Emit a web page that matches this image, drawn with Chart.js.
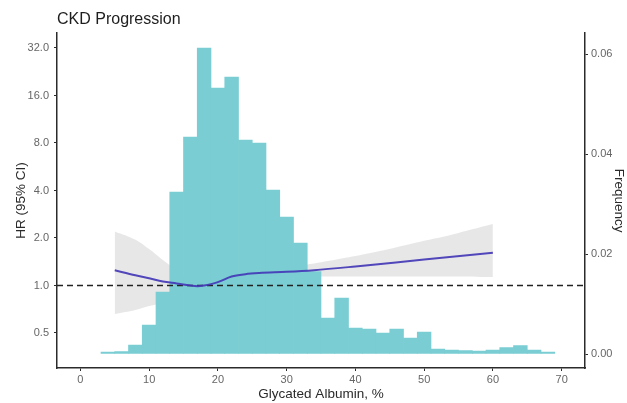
<!DOCTYPE html>
<html>
<head>
<meta charset="utf-8">
<script src="https://cdn.jsdelivr.net/npm/chart.js@4"></script>
<style>
  body { margin: 0; background: #ffffff; }
  #wrap { width: 627px; height: 403px; }
</style>
</head>
<body>
<div id="wrap"><canvas id="ckdChart" width="627" height="403"></canvas></div>
<script>
// histogram of glycated albumin (bin centres, width 2) and the frequency of each bin
const binCentres = [4, 6, 8, 10, 12, 14, 16, 18, 20, 22, 24, 26, 28, 30, 32, 34, 36, 38, 40, 42, 44, 46, 48, 50, 52, 54, 56, 58, 60, 62, 64, 66, 68]
const binFreq = [0.0004, 0.0005, 0.0018, 0.0058, 0.0124, 0.0324, 0.0434, 0.0612, 0.0532, 0.0554, 0.0428, 0.0422, 0.0328, 0.0274, 0.0222, 0.0165, 0.0072, 0.0112, 0.0052, 0.0050, 0.0042, 0.0050, 0.0032, 0.0044, 0.0010, 0.0008, 0.0007, 0.0006, 0.0008, 0.0013, 0.0017, 0.0008, 0.0004]

// hazard ratio curve and its 95% CI
const hrX = [5, 8, 10, 12, 14, 16, 17, 18, 19, 20, 22, 24, 26, 30, 34, 40, 50, 60]
const hrValue = [1.25, 1.16, 1.11, 1.06, 1.03, 1.00, 0.99, 1.00, 1.02, 1.05, 1.14, 1.18, 1.20, 1.22, 1.25, 1.32, 1.46, 1.61]
const ciX = [5, 8, 10, 12, 14, 16, 18, 20, 22, 24, 26, 28, 30, 34, 38, 42, 46, 50, 54, 60]
const ciUpper = [2.2, 1.95, 1.7, 1.45, 1.25, 1.08, 1.05, 1.1, 1.22, 1.26, 1.28, 1.3, 1.32, 1.38, 1.48, 1.6, 1.75, 1.92, 2.1, 2.45]
const ciLower = [0.66, 0.7, 0.74, 0.78, 0.86, 0.93, 0.95, 1.02, 1.1, 1.12, 1.14, 1.15, 1.15, 1.14, 1.14, 1.14, 1.14, 1.14, 1.14, 1.13]

// reference line at HR = 1 spanning the x range
const refX = [-3.4, 73.4]
const refHR = [1, 1]

// tick values
const xTicks = [0, 10, 20, 30, 40, 50, 60, 70]
const hrTicks = [0.5, 1, 2, 4, 8, 16, 32]
const freqTicks = [0, 0.02, 0.04, 0.06]

const toPoints = (xs, ys) => xs.map((x, i) => ({x: x, y: ys[i]}))

const axisColor = '#2b2b2b'
const tickColor = '#666666'
const fontFamily = '"Liberation Sans", Arial, sans-serif'

const ckdChart = new Chart(document.getElementById('ckdChart'), {
    type: 'bar',
    data: {
        datasets: [
            {
                // upper bound of CI, filled down to the lower bound (next dataset)
                type: 'line',
                data: toPoints(ciX, ciUpper),
                yAxisID: 'y',
                borderWidth: 0,
                pointRadius: 0,
                tension: 0.4,
                fill: '+1',
                backgroundColor: 'rgba(215, 215, 215, 0.6)',
                order: 4
            },
            {
                type: 'line',
                data: toPoints(ciX, ciLower),
                yAxisID: 'y',
                borderWidth: 0,
                pointRadius: 0,
                tension: 0.4,
                fill: false,
                order: 4
            },
            {
                type: 'bar',
                data: toPoints(binCentres, binFreq),
                yAxisID: 'y2',
                backgroundColor: '#79cdd3',
                borderWidth: 0,
                barPercentage: 1,
                categoryPercentage: 1,
                order: 3
            },
            {
                type: 'line',
                data: toPoints(refX, refHR),
                yAxisID: 'y',
                borderColor: '#222222',
                borderWidth: 1.5,
                borderDash: [6, 4],
                pointRadius: 0,
                fill: false,
                order: 2
            },
            {
                type: 'line',
                data: toPoints(hrX, hrValue),
                yAxisID: 'y',
                borderColor: 'rgba(68, 56, 182, 0.92)',
                borderWidth: 2,
                pointRadius: 0,
                cubicInterpolationMode: 'monotone',
                fill: false,
                order: 1
            }
        ]
    },
    options: {
        responsive: false,
        animation: false,
        layout: { padding: 0 },
        plugins: {
            legend: { display: false },
            tooltip: { enabled: false },
            title: {
                display: true,
                text: 'CKD Progression',
                align: 'start',
                fullSize: false,
                color: '#1e1e1e',
                font: { family: fontFamily, size: 16, weight: 'normal' },
                padding: { top: 10, bottom: 4 }
            }
        },
        scales: {
            x: {
                type: 'linear',
                min: -3.4,
                max: 73.4,
                offset: false,
                afterBuildTicks: scale => { scale.ticks = xTicks.map(v => ({value: v})) },
                afterFit: scale => { scale.height = 35 },
                grid: { display: true, drawOnChartArea: false, drawTicks: true, tickLength: 3, color: axisColor, offset: false },
                border: { display: true, color: axisColor, width: 1.5 },
                ticks: { color: tickColor, font: { family: fontFamily, size: 11 }, padding: 2, maxRotation: 0 },
                title: {
                    display: true,
                    text: 'Glycated Albumin, %',
                    color: '#2a2a2a',
                    font: { family: fontFamily, size: 13.5 },
                    padding: { top: 0, bottom: 1 }
                }
            },
            y: {
                type: 'logarithmic',
                position: 'left',
                min: 0.325,
                max: 39.7,
                afterBuildTicks: scale => { scale.ticks = hrTicks.map(v => ({value: v})) },
                afterFit: scale => { scale.width = 57 },
                grid: { display: true, drawOnChartArea: false, drawTicks: true, tickLength: 3, color: axisColor },
                border: { display: true, color: axisColor, width: 1.5 },
                ticks: {
                    color: tickColor,
                    font: { family: fontFamily, size: 11 },
                    padding: 5,
                    callback: value => Number(value).toFixed(1)
                },
                title: {
                    display: true,
                    text: 'HR (95% CI)',
                    color: '#2a2a2a',
                    font: { family: fontFamily, size: 13.5 },
                    padding: { top: 13, bottom: 0 }
                }
            },
            y2: {
                type: 'linear',
                position: 'right',
                min: -0.0028,
                max: 0.0642,
                afterBuildTicks: scale => { scale.ticks = freqTicks.map(v => ({value: v})) },
                afterFit: scale => { scale.width = 42 },
                grid: { display: true, drawOnChartArea: false, drawTicks: true, tickLength: 3, color: axisColor },
                border: { display: true, color: axisColor, width: 1.5 },
                ticks: {
                    color: tickColor,
                    font: { family: fontFamily, size: 11 },
                    padding: 3,
                    callback: value => Number(value).toFixed(2)
                },
                title: {
                    display: true,
                    text: 'Frequency',
                    color: '#2a2a2a',
                    font: { family: fontFamily, size: 13.5 },
                    padding: { top: 0, bottom: 0 }
                }
            }
        }
    }
})
</script>
</body>
</html>
